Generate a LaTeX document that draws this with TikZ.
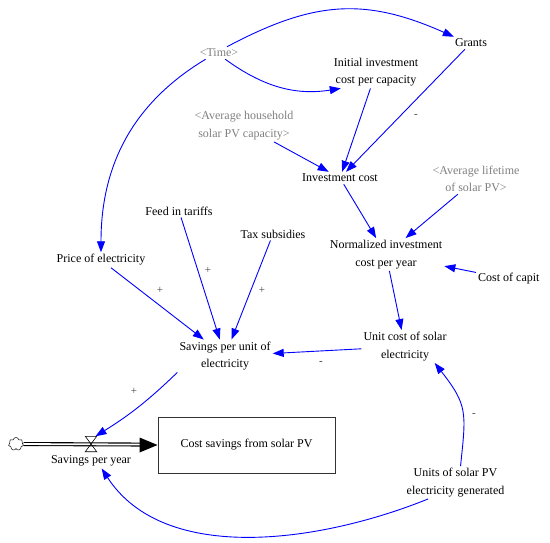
\documentclass[tikz,border=0pt]{standalone}
\usepackage{fontspec}
\setmainfont{Liberation Serif}
\usetikzlibrary{arrows.meta,positioning,shapes.symbols,calc}

\begin{document}
\begin{tikzpicture}[x=1pt,y=1pt,
  var/.style={align=center,font=\fontsize{12}{17.5}\selectfont,inner sep=2pt},
  shad/.style={var,text=black!50},
  ar/.style={-{Triangle[length=11pt,width=8pt]},blue,line width=0.9pt},
  pol/.style={font=\fontsize{11}{13}\selectfont,text=black!75,inner sep=1pt},
  stockbox/.style={draw=black!80,line width=0.9pt,minimum width=177pt,minimum height=56pt,
                   font=\fontsize{12}{17.5}\selectfont},
  pipe/.style={double,double distance=1.8pt,line width=1.1pt}]
  \useasboundingbox (0,0) rectangle (550,-543);
  % variables
  \node[shad] (time) at (219,-53) {<Time>};
  \node[var] (grants) at (471,-43) {Grants};
  \node[var] (initcost) at (376,-72) {Initial investment\\cost per capacity};
  \node[shad] (avghh) at (244,-125.5) {<Average household\\solar PV capacity>};
  \node[var] (invcost) at (340,-178) {Investment cost};
  \node[shad] (avglife) at (476,-179) {<Average lifetime\\of solar PV>};
  \node[var] (normcost) at (386,-254.5) {Normalized investment\\cost per year};
  \node[var,anchor=west] (capital) at (476,-279) {Cost of capit};
  \node[var] (feed) at (179,-211) {Feed in tariffs};
  \node[var] (tax) at (273,-234) {Tax subsidies};
  \node[var] (price) at (101,-260) {Price of electricity};
  \node[var] (savunit) at (225,-356) {Savings per unit of\\electricity};
  \node[var] (unitcost) at (405,-346.5) {Unit cost of solar\\electricity};
  \node[var] (unitsgen) at (455.5,-482.5) {Units of solar PV\\electricity generated};
  % stock and flow
  \node[stockbox] (stock) at (246.5,-445) {Cost savings from solar PV};
  \node[cloud,draw,cloud puffs=7,cloud puff arc=160,aspect=1.1,minimum width=15pt,
        minimum height=13pt,inner sep=0,line width=0.5pt] (src) at (16,-444) {};
  \draw[pipe,shorten >=16pt] (src) -- (stock);
  \fill (stock.west) -- ++(-18,7.5) -- ++(0,-15) -- cycle;
  \node[minimum width=11pt,minimum height=15pt,inner sep=0] (valve) at (91,-444) {};
  \draw[line width=0.6pt] (valve.north west) -- (valve.north east) -- (valve.south west)
    -- (valve.south east) -- cycle;
  \node[var] (saveyr) at (91,-461) {Savings per year};
  % links
  \draw[ar] (time.38) to[out=28,in=156,looseness=1.1] (grants.160);
  \draw[ar] (time.-45) to[out=-36,in=189] (initcost.205);
  \draw[ar] (time.205) to[out=211,in=90] (price);
  \draw[ar] (avghh) -- (invcost);
  \draw[ar] (initcost) -- (invcost);
  \draw[ar] (grants) -- (invcost);
  \draw[ar] (invcost) -- (normcost);
  \draw[ar] (avglife) -- (normcost);
  \draw[ar] (capital) -- (normcost);
  \draw[ar] (normcost) -- (unitcost);
  \draw[ar] (unitcost) -- (savunit);
  \draw[ar] (price) -- (savunit);
  \draw[ar] (feed) -- (savunit);
  \draw[ar] (tax) -- (savunit);
  \draw[ar] (savunit.south west) to[bend left=6] (valve.60);
  \draw[ar] (unitsgen.211) to[out=202,in=-57,looseness=0.9] (saveyr.-35);
  \draw[ar] (unitsgen.73) to[out=84,in=-52,looseness=1.3] (unitcost.-29);
  % polarities
  \node[pol] (p1) at (160,-290) {+};
  \node[pol] (p2) at (208,-270) {+};
  \node[pol] (p3) at (262,-290) {+};
  \node[pol] (p4) at (416,-116) {-};
  \node[pol] (p5) at (321,-363) {-};
  \node[pol] (p6) at (134,-391) {+};
  \node[pol] (p7) at (474,-415) {-};
\end{tikzpicture}
\end{document}
